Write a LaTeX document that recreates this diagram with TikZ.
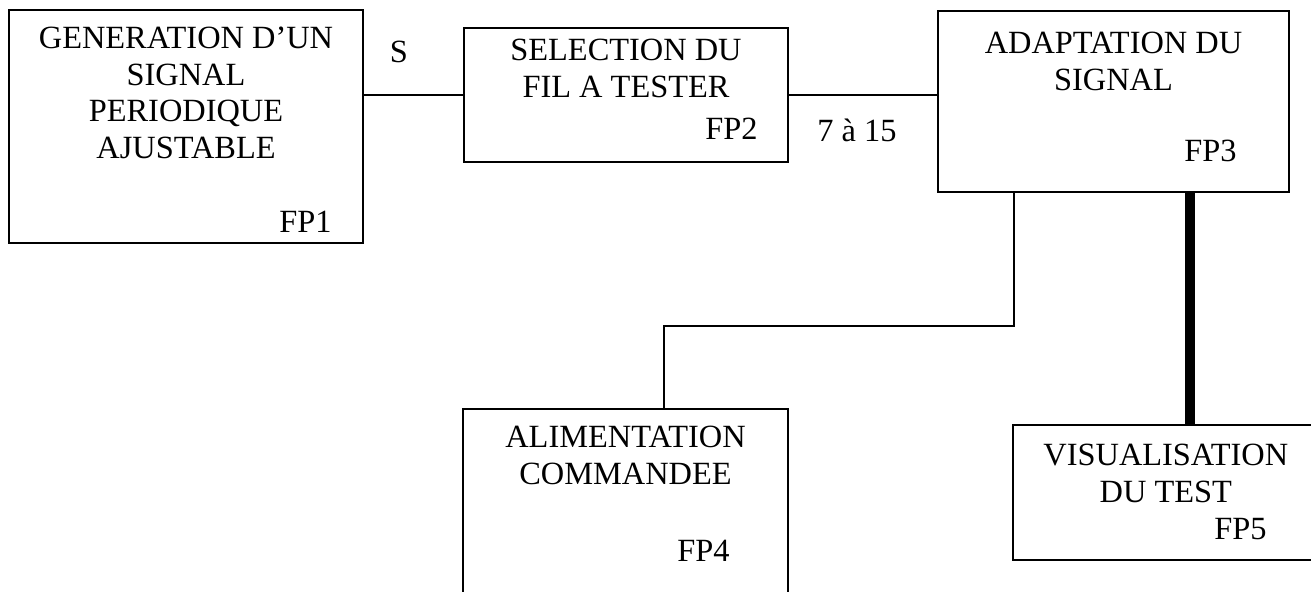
\documentclass[tikz,border=0pt]{standalone}
\usepackage{fontspec}
\setmainfont{Liberation Serif}
\usetikzlibrary{positioning}

\begin{document}
\begin{tikzpicture}[
    x=0.5pt, y=-0.5pt,
    every node/.style={font=\fontsize{16.2}{18.25}\selectfont},
    box/.style={draw, line width=1pt, inner sep=0pt, outer sep=0pt},
    title/.style={inner sep=0pt, align=center},
    tag/.style={inner sep=0pt},
    link/.style={line width=1pt},
    bus/.style={line width=5pt}
  ]
  \useasboundingbox (0,0) rectangle (1311,591);
  \clip (0,0) rectangle (1311,591);

  % blocks
  \node[box, minimum width=177pt, minimum height=116.5pt] (fp1) at (186,126.5) {};
  \node[box, minimum width=162pt, minimum height=67pt]    (fp2) at (626,95) {};
  \node[box, minimum width=175.5pt, minimum height=90.5pt] (fp3) at (1113.5,101.5) {};
  \node[box, minimum width=162.5pt, minimum height=105.5pt] (fp4) at (625.5,514.5) {};
  \node[box, minimum width=177pt, minimum height=67.5pt]  (fp5) at (1190,492.5) {};

  \node[title, below=8.5pt of fp1.north]  (fp1t) {GENERATION D’UN\\SIGNAL\\PERIODIQUE\\AJUSTABLE};
  \node[title, below=5.5pt of fp2.north]  (fp2t) {SELECTION DU\\FIL A TESTER};
  \node[title, below=10.5pt of fp3.north] (fp3t) {ADAPTATION DU\\SIGNAL};
  \node[title, below=8.5pt of fp4.north]  (fp4t) {ALIMENTATION\\COMMANDEE};
  \node[title, below right=9.5pt and 15pt of fp5.north west] (fp5t) {VISUALISATION\\DU TEST};

  \node[tag, above left=5pt and 15.5pt of fp1.south east] (fp1n) {FP1};
  \node[tag, above left=11pt and 15pt of fp2.south east]  (fp2n) {FP2};
  \node[tag, above left=15pt and 26pt of fp3.south east]  (fp3n) {FP3};
  \node[tag, above left=29pt and 29pt of fp4.south east]  (fp4n) {FP4};
  \node[tag, above left=10pt and 50pt of fp5.south east]  (fp5n) {FP5};

  % links
  \node (sig) at (399,52) {S};
  \node (wires) at (857,130) {7 à 15};
  \coordinate (kneeA) at (1014,326);
  \coordinate (kneeB) at (664,326);

  \draw[link] (fp1.east |- fp2.west) -- (fp2.west);
  \draw[link] (fp2.east) -- (fp3.west |- fp2.east);
  \draw[link] (fp3.south -| kneeA) -- (kneeA) -- (kneeB) -- (fp4.north -| kneeB);
  \draw[bus] (fp3.south -| fp5.north) -- (fp5.north);
\end{tikzpicture}
\end{document}
